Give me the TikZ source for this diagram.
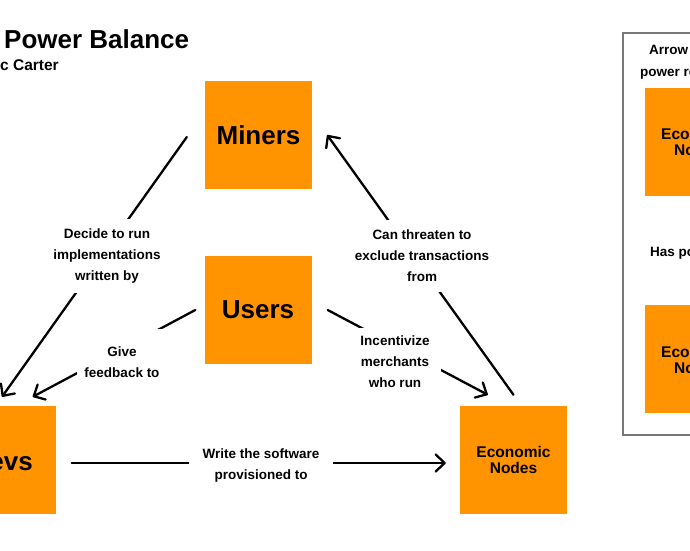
\documentclass[tikz,border=0pt]{standalone}
\usepackage{fontspec}
\setmainfont{Liberation Sans}
\usepackage{xcolor}
\usetikzlibrary{arrows.meta}

\definecolor{btcorange}{RGB}{255,148,0}
\definecolor{framegray}{RGB}{120,120,120}

\tikzset{
  actor/.style={fill=btcorange, minimum width=107pt, minimum height=108pt, inner sep=0pt,
    font=\fontsize{26}{28}\selectfont\bfseries},
  econbox/.style={actor, align=center, font=\fontsize{15.5}{16}\selectfont\bfseries},
  rel/.style={line width=2.3pt, line cap=round, -{Straight Barb[length=9pt,width=17pt,round]}},
  relabel/.style={fill=white, align=center, inner xsep=4pt, inner ysep=10pt,
    font=\fontsize{13.5}{21}\selectfont\bfseries}
}

\begin{document}
\begin{tikzpicture}[x=1pt,y=-1pt]
\useasboundingbox (0,0) rectangle (690,550);
\clip (0,0) rectangle (690,550);

% title
\node[anchor=base west, inner sep=0pt, font=\fontsize{26}{28}\selectfont\bfseries] (title) at (4,48) {Power Balance};
\node[anchor=base east, inner sep=0pt, font=\fontsize{15.5}{17}\selectfont\bfseries] (author) at (59,70) {c Carter};

% the four parties
\node[actor] (miners) at (258.5,135) {Miners};
\node[actor] (users) at (258,310) {Users};
\node[actor] (devs) at (2,460) {};
\node[anchor=base east, inner sep=0pt, font=\fontsize{26}{28}\selectfont\bfseries] (devstext) at (33,470) {evs};
\node[econbox] (econ) at (513.5,460) {Economic\\Nodes};

% relations
\draw[rel] ([shift={(-18,2)}]miners.west) -- ([shift={(0,-9)}]devs.north);
\draw[rel] ([shift={(-9,0)}]users.west) -- ([shift={(-23,-9)}]devs.north east);
\draw[rel] ([shift={(16,0)}]users.east) -- ([shift={(28,-11)}]econ.north west);
\draw[rel] ([shift={(0,-11)}]econ.north) -- ([shift={(15,0)}]miners.east);
\draw[rel] ([shift={(16,3)}]devs.east) -- ([shift={(-14,3)}]econ.west);

\node[relabel] (decide) at (107,256) {Decide to run\\implementations\\written by};
\node[relabel] (threaten) at (422,256) {Can threaten to\\exclude transactions\\from};
\node[relabel, inner xsep=7pt, inner ysep=18pt] (feedback) at (122,362) {Give\\feedback to};
\node[relabel, inner xsep=11pt, inner ysep=8pt] (incent) at (395,362) {Incentivize\\merchants\\who run};
\node[relabel, inner xsep=14pt, inner ysep=4pt] (write) at (261,465) {Write the software\\provisioned to};

% legend
\draw[framegray, line width=1.3pt] (623,33) rectangle (720,435);
\node[anchor=base west, inner sep=0pt, font=\fontsize{13.5}{15}\selectfont\bfseries] (legtop) at (649,54) {Arrow};
\node[anchor=base west, inner sep=0pt, font=\fontsize{13.5}{15}\selectfont\bfseries] (legsub) at (640,76) {power re};
\node[actor, anchor=north west] (legA) at (645,88) {};
\node[anchor=base west, inner sep=0pt, font=\fontsize{15.5}{16}\selectfont\bfseries] (legAa) at (661,139) {Eco};
\node[anchor=base west, inner sep=0pt, font=\fontsize{15.5}{16}\selectfont\bfseries] (legAb) at (674,155) {No};
\node[anchor=base west, inner sep=0pt, font=\fontsize{13.5}{15}\selectfont\bfseries] (legmid) at (650,256) {Has po};
\node[actor, anchor=north west] (legB) at (645,305) {};
\node[anchor=base west, inner sep=0pt, font=\fontsize{15.5}{16}\selectfont\bfseries] (legBa) at (661,357) {Eco};
\node[anchor=base west, inner sep=0pt, font=\fontsize{15.5}{16}\selectfont\bfseries] (legBb) at (674,373) {No};
\end{tikzpicture}
\end{document}
